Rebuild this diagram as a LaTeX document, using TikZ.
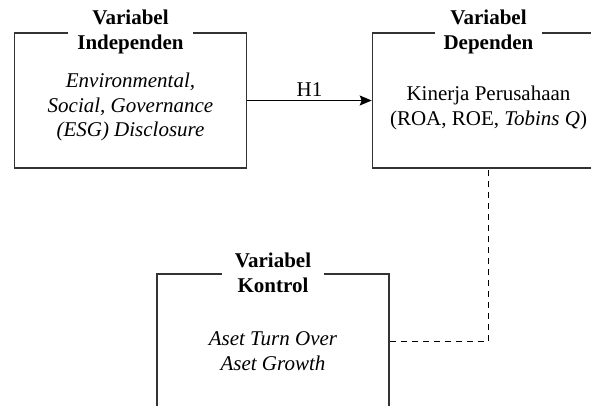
\documentclass[tikz,border=0pt]{standalone}
\usepackage{fontspec}
\setmainfont{Liberation Serif}
\usetikzlibrary{arrows.meta}

\begin{document}
\begin{tikzpicture}[x=1pt, y=1pt, font=\fontsize{21}{24.5}\selectfont,
	varbox/.style = {draw=black!80, line width=1.6pt, minimum width=232pt, minimum height=135pt},
	vartitle/.style = {fill=white, font=\fontsize{21}{25}\selectfont\bfseries, align=center, minimum width=102pt, inner xsep=9pt, inner ysep=0pt},
	vartext/.style = {align=center},
	dashline/.style = {dashed, dash pattern=on 6pt off 5pt, line width=1.3pt}]
	\useasboundingbox (0,0) rectangle (591,-405);
	\clip (0,0) rectangle (591,-405);
	% boxes
	\node[varbox] (ind) at (130.5,-100.5) {};
	\node[varbox] (dep) at (488.5,-100.5) {};
	\node[varbox] (kon) at (273,-341.5) {};
	% titles
	\node[vartitle] (indtitle) at (ind.north) {Variabel\\Independen};
	\node[vartitle] (deptitle) at (dep.north) {Variabel\\Dependen};
	\node[vartitle] (kontitle) at (kon.north) {Variabel\\Kontrol};
	% contents
	\node[vartext] (indtext) at (130.5,-107) {\textit{Environmental,}\\\textit{Social, Governance}\\\textit{(ESG) Disclosure}};
	\node[vartext] (deptext) at (488.5,-108) {Kinerja Perusahaan\\(ROA, ROE, \textit{Tobins Q})};
	\node[vartext] (kontext) at (273,-351) {\textit{Aset Turn Over}\\\textit{Aset Growth}};
	% connectors
	\draw[line width=1.3pt, -{Stealth[length=12pt, width=10pt, inset=2pt]}] (ind.east) -- node[above] {H1} (dep.west);
	\draw[dashline] (kon.east) -| (dep.south);
\end{tikzpicture}
\end{document}
